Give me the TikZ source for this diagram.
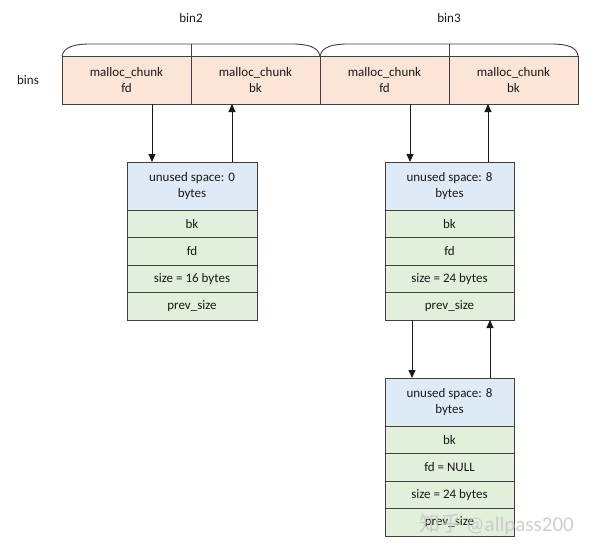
\documentclass[tikz,border=0pt]{standalone}
\usepackage{fontspec}
\setmainfont{Carlito}
\newfontfamily\cjkfont{Noto Sans CJK SC}
\usetikzlibrary{arrows.meta}
\definecolor{peach}{HTML}{FBE5D6}
\definecolor{lblue}{HTML}{DEEBF7}
\definecolor{lgreen}{HTML}{E2EFDA}
\definecolor{border}{HTML}{404040}
\begin{document}
\begin{tikzpicture}[x=1pt,y=-1pt,
  txt/.style={font=\fontsize{13}{16}\selectfont, text=black!90},
  cellbase/.style={txt, draw=border, line width=0.9pt, inner sep=0pt, outer sep=0pt, align=center, anchor=north west},
  bincell/.style={cellbase, fill=peach, minimum width=129pt, minimum height=48pt},
  ucell/.style={cellbase, fill=lblue, minimum width=#1, minimum height=48pt},
  gcell/.style={cellbase, fill=lgreen, minimum width=#1, minimum height=27.5pt},
  arr/.style={draw=black!90, line width=1pt, -{Triangle[length=8pt,width=7pt]}},
  brace/.style={draw=border, line width=0.9pt}
]
\useasboundingbox (0,0) rectangle (600,554);
\fill[white] (0,0) rectangle (600,554);

% bins row
\node[bincell] (b2fd) at (62,56) {malloc\_chunk\\fd};
\node[bincell] (b2bk) at (b2fd.north east) {malloc\_chunk\\bk};
\node[bincell] (b3fd) at (b2bk.north east) {malloc\_chunk\\fd};
\node[bincell] (b3bk) at (b3fd.north east) {malloc\_chunk\\bk};
\node[txt] (bins) at (28,80) {bins};

% braces
\draw[brace] (b2fd.north west) .. controls (64,47) and (74,44) .. (90,44) -- (292,44) .. controls (308,44) and (318,47) .. (b2bk.north east);
\draw[brace] (b3fd.north west) .. controls (322,47) and (332,44) .. (348,44) -- (551,44) .. controls (567,44) and (577,47) .. (b3bk.north east);
\coordinate (t2) at (191,44);
\coordinate (t3) at (449,44);
\node[txt] (bin2) at (191,18) {bin2};
\node[txt] (bin3) at (449,18) {bin3};
\draw[brace] (t2) -- ([yshift=-12pt]t2);
\draw[brace] (t3) -- ([yshift=-12pt]t3);

% chunk 1 (bin2)
\node[ucell=130pt] (c1u) at (127,162) {unused space: 0\\bytes};
\node[gcell=130pt] (c1bk) at (c1u.south west) {bk};
\node[gcell=130pt] (c1fd) at (c1bk.south west) {fd};
\node[gcell=130pt] (c1sz) at (c1fd.south west) {size = 16 bytes};
\node[gcell=130pt] (c1ps) at (c1sz.south west) {prev\_size};

% chunk 2 (bin3)
\node[ucell=129pt] (c2u) at (385,162) {unused space: 8\\bytes};
\node[gcell=129pt] (c2bk) at (c2u.south west) {bk};
\node[gcell=129pt] (c2fd) at (c2bk.south west) {fd};
\node[gcell=129pt] (c2sz) at (c2fd.south west) {size = 24 bytes};
\node[gcell=129pt] (c2ps) at (c2sz.south west) {prev\_size};

% chunk 3 (bin3)
\node[ucell=129pt] (c3u) at (385,378) {unused space: 8\\bytes};
\node[gcell=129pt] (c3bk) at (c3u.south west) {bk};
\node[gcell=129pt] (c3fd) at (c3bk.south west) {fd = NULL};
\node[gcell=129pt] (c3sz) at (c3fd.south west) {size = 24 bytes};
\node[gcell=129pt] (c3ps) at (c3sz.south west) {prev\_size};

% arrows
\draw[arr] ([xshift=25.5pt]b2fd.south) -- ([xshift=25.5pt]b2fd.south |- c1u.north);
\draw[arr] ([xshift=-23.5pt]b2bk.south |- c1u.north) -- ([xshift=-23.5pt]b2bk.south);
\draw[arr] ([xshift=25.5pt]b3fd.south) -- ([xshift=25.5pt]b3fd.south |- c2u.north);
\draw[arr] ([xshift=-25.5pt]b3bk.south |- c2u.north) -- ([xshift=-25.5pt]b3bk.south);
\draw[arr] ([xshift=-37.5pt]c2ps.south) -- ([xshift=-37.5pt]c2ps.south |- c3u.north);
\draw[arr] ([xshift=40.5pt]c2ps.south |- c3u.north) -- ([xshift=40.5pt]c2ps.south);

% watermark
\node[text=black!22, opacity=0.85, font=\fontsize{21}{24}\selectfont, anchor=west, inner sep=0pt] (wm) at (419,524) {{\cjkfont 知乎} @allpass200};
\end{tikzpicture}
\end{document}
